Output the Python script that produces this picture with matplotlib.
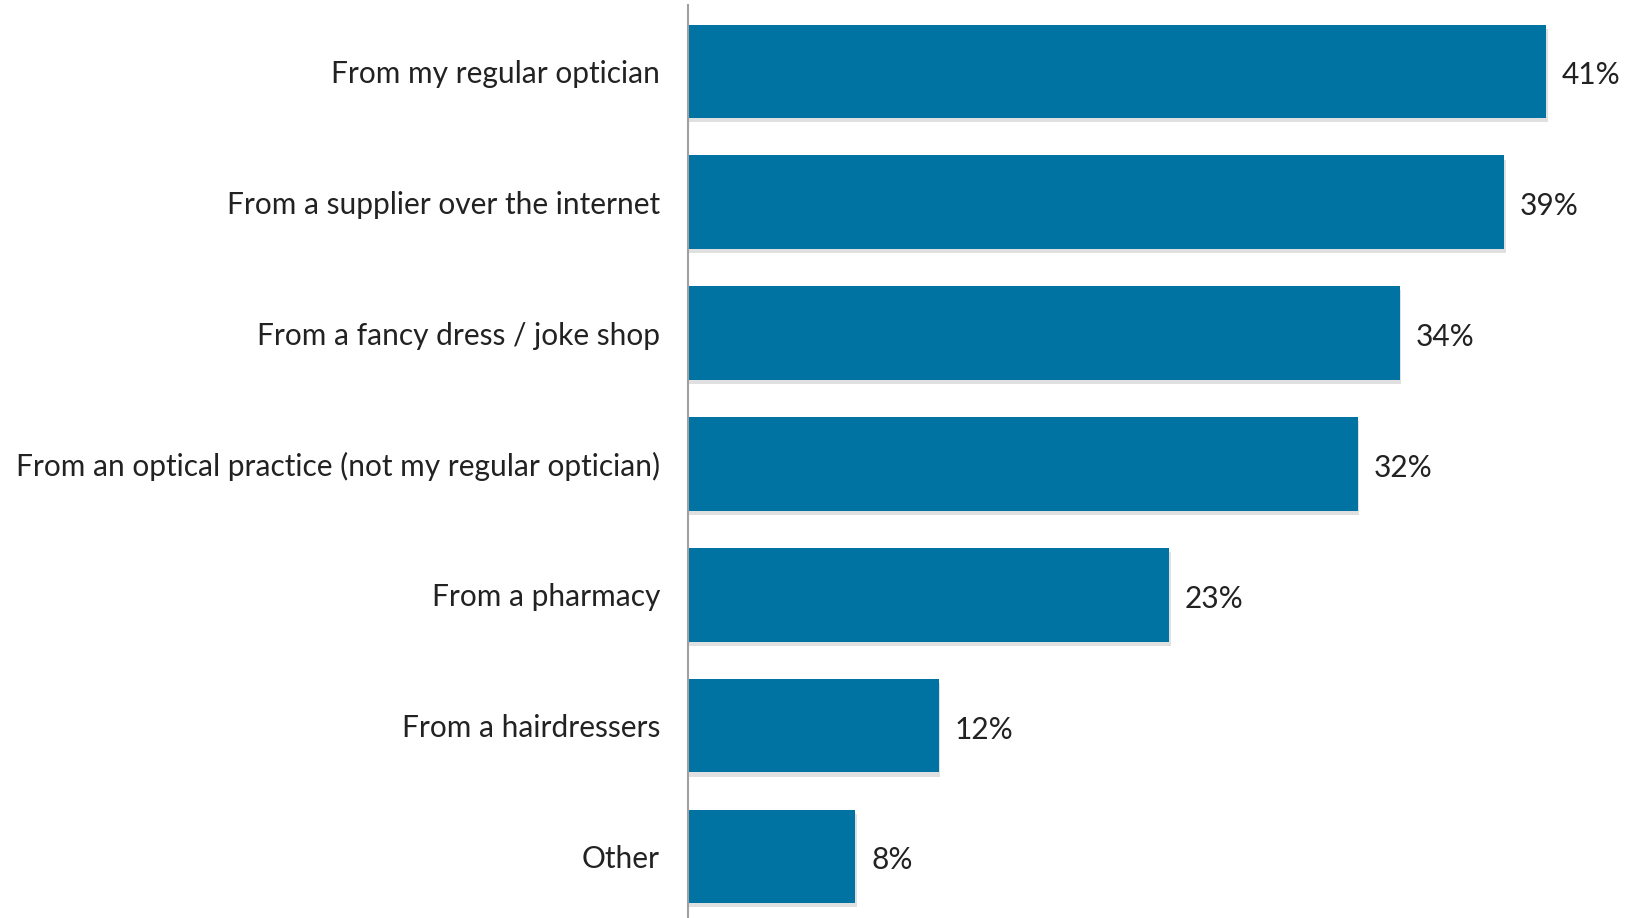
import matplotlib.pyplot as plt
import matplotlib.patheffects as pe

categories = ['From my regular optician',
              'From a supplier over the internet',
              'From a fancy dress / joke shop',
              'From an optical practice (not my regular optician)',
              'From a pharmacy',
              'From a hairdressers',
              'Other']
values = [41, 39, 34, 32, 23, 12, 8]

plt.rcParams['font.family'] = ['Lato', 'DejaVu Sans']

fig = plt.figure(figsize=(16.3, 9.18), dpi=100)
ax = fig.add_axes([0.422, 0.0, 0.578, 0.995])

pos = list(range(len(categories)))
bars = ax.barh(pos, values, height=0.715, color='#0073A3')
for b in bars:
    b.set_path_effects([pe.SimplePatchShadow(offset=(1, -3), shadow_rgbFace='#999999', alpha=0.3),
                        pe.Normal()])

for p, v in zip(pos, values):
    ax.text(v + 0.75, p + 0.03, '{}%'.format(v), va='center', ha='left',
            fontsize=21.5, color='#222222')

ax.set_yticks(pos)
ax.set_yticklabels(categories, fontsize=21.5, color='#222222')
ax.tick_params(axis='y', length=0, pad=20)
ax.set_xticks([])
ax.set_xlim(0, 45)
ax.set_ylim(6.47, -0.51)

for s in ['top', 'right', 'bottom']:
    ax.spines[s].set_visible(False)
ax.spines['left'].set_color('#A0A0A0')
ax.spines['left'].set_linewidth(1.5)

fig.savefig('out.png', dpi=100)
